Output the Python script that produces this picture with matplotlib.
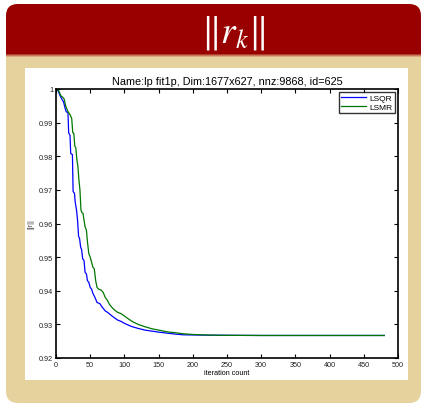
import matplotlib
matplotlib.use("Agg")
import matplotlib.pyplot as plt
from matplotlib.patches import FancyBboxPatch, Rectangle
from matplotlib.transforms import IdentityTransform

# ---------------- data ----------------
lsqr_iter = [0, 3, 6, 9, 11, 13, 15, 17.5, 18.5, 20.5, 21.5, 24, 25, 27, 28, 30, 31.5, 33, 34.5, 36,
             37.5, 39, 41, 42.5, 44.5, 46, 48, 50, 52, 54, 57, 60, 64, 68, 72, 76, 80, 85, 90, 95,
             100, 110, 120, 130, 140, 150, 162, 175, 186, 200, 220, 250, 300, 480]
lsqr_val = [1.0, 0.9995, 0.998, 0.9968, 0.9962, 0.9945, 0.9932, 0.9930, 0.9870, 0.9862, 0.9808,
            0.9805, 0.9695, 0.9690, 0.9665, 0.9640, 0.9610, 0.9562, 0.9555, 0.9530, 0.9522, 0.9495,
            0.9490, 0.9455, 0.9450, 0.9430, 0.9425, 0.9410, 0.9405, 0.9392, 0.9380, 0.9365, 0.9362,
            0.9350, 0.9340, 0.9335, 0.9328, 0.9320, 0.9313, 0.9309, 0.9303, 0.9294, 0.9288, 0.9283,
            0.9280, 0.9277, 0.9274, 0.9271, 0.9269, 0.92685, 0.9268, 0.92675, 0.9267, 0.9267]

lsmr_iter = [0, 4, 7, 10, 12, 13.5, 15, 17, 19, 21, 23, 24.5, 26, 27.5, 29, 30.5, 32, 33.5, 35,
             36.5, 38, 39.5, 41, 42.5, 44.5, 46, 48, 50, 52, 54, 56, 58, 60, 62, 66, 69, 72, 75,
             78, 82, 86, 90, 95, 100, 106, 112, 120, 130, 140, 150, 162, 175, 186, 200, 225, 250,
             300, 480]
lsmr_val = [1.0, 0.9995, 0.998, 0.9975, 0.997, 0.9955, 0.9945, 0.9935, 0.9928, 0.9922, 0.9912,
            0.9870, 0.9868, 0.9830, 0.9825, 0.9790, 0.9770, 0.9730, 0.9700, 0.9640, 0.9632, 0.9630,
            0.9610, 0.9590, 0.9580, 0.9545, 0.9510, 0.9500, 0.9485, 0.9470, 0.9465, 0.9430, 0.9410,
            0.9405, 0.9402, 0.9395, 0.9380, 0.9372, 0.9360, 0.9350, 0.9342, 0.9336, 0.9332, 0.9325,
            0.9316, 0.9308, 0.9300, 0.9293, 0.9287, 0.9283, 0.9278, 0.9275, 0.9272, 0.9270, 0.9268,
            0.92675, 0.9267, 0.9267]

x_ticks = [0, 50, 100, 150, 200, 250, 300, 350, 400, 450, 500]
y_ticks = [0.92, 0.93, 0.94, 0.95, 0.96, 0.97, 0.98, 0.99, 1.0]
y_tick_labels = ["0.92", "0.93", "0.94", "0.95", "0.96", "0.97", "0.98", "0.99", "1"]

title = "Name:lp fit1p, Dim:1677x627, nnz:9868, id=625"
header = r"$\Vert r_k \Vert$"

# ---------------- figure ----------------
W, H = 423, 406
DPI = 100
plt.rcParams['font.family'] = ['Liberation Sans', 'DejaVu Sans']
plt.rcParams['mathtext.fontset'] = 'stix'
fig = plt.figure(figsize=(W / DPI, H / DPI), dpi=DPI, facecolor='white')

RED = '#990000'
TAN = '#E6D29D'
ident = IdentityTransform()

def box(x0, y0top, x1, y1top, color, rounding=0):
    # pixel coords measured from top
    y0 = H - y1top
    h = y1top - y0top
    if rounding:
        p = FancyBboxPatch((x0, y0), x1 - x0, h,
                           boxstyle=f"round,pad=0,rounding_size={rounding}",
                           transform=ident, facecolor=color, edgecolor='none', zorder=0)
    else:
        p = Rectangle((x0, y0), x1 - x0, h, transform=ident,
                      facecolor=color, edgecolor='none', zorder=0)
    fig.add_artist(p)

box(6, 5, 421, 404, TAN, rounding=12)
box(6, 5, 421, 58, RED, rounding=12)
box(6, 30, 421, 55, RED)
box(6, 55, 421, 56, '#B0402C')
box(6, 56, 421, 57, '#C8785A')
box(6, 57, 421, 58, '#D8A880')
box(25, 69, 408, 381, 'white')

fig.text(233 / W, 1 - 33 / H, header, color='white', fontsize=27,
         ha='center', va='center')

ax = fig.add_axes([56 / W, 1 - 359 / H, (398 - 56) / W, (359 - 90) / H])
ax.set_facecolor('white')
ax.plot(lsqr_iter, lsqr_val, color='#0000FF', lw=0.9, label='LSQR')
ax.plot(lsmr_iter, lsmr_val, color='#007700', lw=0.9, label='LSMR')
ax.set_xlim(0, 500)
ax.set_ylim(0.92, 1.0)
ax.set_xticks(x_ticks)
ax.set_xticklabels([str(t) for t in x_ticks])
ax.set_yticks(y_ticks)
ax.set_yticklabels(y_tick_labels)
ax.tick_params(direction='in', length=3, width=0.8, labelsize=5.2, top=True, right=True, pad=2,
               colors='black', labelcolor='#222222')
for s in ax.spines.values():
    s.set_linewidth(1.2)
ax.set_title(title, fontsize=7.8, pad=3.5)
ax.set_xlabel('iteration count', fontsize=5.2, labelpad=1)
ax.set_ylabel('||r||', fontsize=5, labelpad=3, color='#444444')
leg = ax.legend(loc='upper right', fontsize=6, frameon=True, fancybox=False,
                borderpad=0.3, handlelength=3.0, handletextpad=0.4, labelspacing=0.1,
                borderaxespad=0.35)
leg.get_frame().set_edgecolor('black')
leg.get_frame().set_linewidth(1.0)

fig.savefig('out.png', dpi=DPI, facecolor='white')
